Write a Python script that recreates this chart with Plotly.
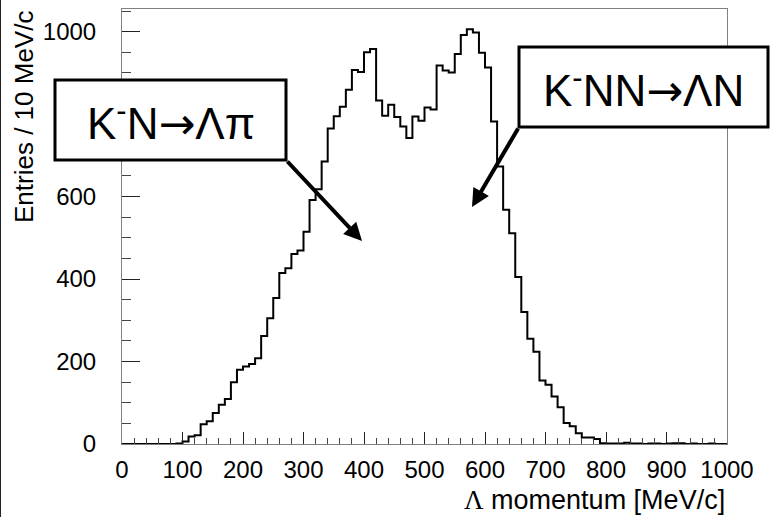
import plotly.graph_objects as go

# ---------------- data ----------------
bin_width = 10
x_start = 0
counts = [0, 0, 0, 0, 0, 0, 0, 0, 0, 1,
          6, 18, 21, 48, 55, 75, 95, 109, 150, 180,
          188, 194, 208, 262, 305, 354, 415, 426, 461, 469,
          515, 592, 618, 685, 765, 795, 818, 859, 907, 902,
          950, 958, 833, 796, 823, 793, 770, 742, 794, 784,
          816, 811, 918, 906, 901, 946, 992, 1006, 998, 949,
          913, 782, 673, 568, 511, 405, 320, 255, 224, 154,
          144, 115, 89, 51, 43, 26, 16, 16, 12, 2,
          1, 1, 1, 3, 1, 1, 0, 1, 1, 0,
          1, 2, 2, 0, 1, 0, 0, 1, 0, 0]
x_ticks = [0, 100, 200, 300, 400, 500, 600, 700, 800, 900, 1000]
y_ticks = [0, 200, 400, 600, 800, 1000]
x_title = '<span style="font-family:Liberation Serif, Times New Roman, serif">\u039b</span> momentum [MeV/c]'
y_title = "Entries / 10 MeV/c"
ARROW = '<span style="font-family:DejaVu Sans">\u2192</span>'
label_1 = "K<sup>-</sup>N" + ARROW + "\u039b\u03c0"
label_2 = "K<sup>-</sup>NN" + ARROW + "\u039bN"

edges = [x_start + i * bin_width for i in range(len(counts) + 1)]
ystep = counts + [counts[-1]]

W, H = 784, 517
ML, MR, MT, MB = 122, 57, 9, 73
PW, PH = W - ML - MR, H - MT - MB


def px(x):
    return (x - ML) / PW


def py(y):
    return (MT + PH - y) / PH


FONT = "Liberation Sans, Arial, Helvetica, sans-serif"

fig = go.Figure()
fig.add_trace(go.Scatter(x=edges, y=ystep, mode="lines",
                         line=dict(color="black", width=2, shape="hv"),
                         hoverinfo="skip", showlegend=False))

axis_common = dict(showgrid=False, zeroline=False, showline=True, mirror=True,
                   linecolor="#808080", linewidth=1, ticks="inside",
                   tickcolor="#222222", tickwidth=1,
                   tickfont=dict(family=FONT, size=24, color="black"))

fig.update_layout(
    width=W, height=H,
    margin=dict(l=ML, r=MR, t=MT, b=MB),
    paper_bgcolor="white", plot_bgcolor="white",
    showlegend=False,
    xaxis=dict(range=[0, 1000], tickvals=x_ticks, ticktext=[str(v) for v in x_ticks],
               ticklen=12, ticklabelstandoff=4,
               minor=dict(ticks="inside", ticklen=6, dtick=20, tick0=0,
                          tickcolor="#444444", showgrid=False),
               **axis_common),
    yaxis=dict(range=[0, 1055], tickvals=y_ticks, ticktext=[str(v) for v in y_ticks],
               ticklen=18, ticklabelstandoff=20,
               minor=dict(ticks="inside", ticklen=9, dtick=50, tick0=0,
                          tickcolor="#444444", showgrid=False),
               **axis_common),
)

shapes = [
    # thin border at left edge of image
    dict(type="line", xref="paper", yref="paper", x0=px(0.5), x1=px(0.5),
         y0=py(0), y1=py(H), line=dict(color="#222222", width=1)),
    # label boxes
    dict(type="rect", xref="paper", yref="paper", x0=px(55), x1=px(286),
         y0=py(80), y1=py(160), fillcolor="white", line=dict(color="black", width=3)),
    dict(type="rect", xref="paper", yref="paper", x0=px(519), x1=px(768),
         y0=py(47), y1=py(127), fillcolor="white", line=dict(color="black", width=3)),
]
fig.update_layout(shapes=shapes)

ann = [
    dict(text=label_1, xref="paper", yref="paper", x=px(170.5), y=py(121),
         showarrow=False, font=dict(family=FONT, size=44, color="black"),
         xanchor="center", yanchor="middle"),
    dict(text=label_2, xref="paper", yref="paper", x=px(643.5), y=py(88),
         showarrow=False, font=dict(family=FONT, size=44, color="black"),
         xanchor="center", yanchor="middle"),
    # arrows
    dict(text="", xref="paper", yref="paper", x=px(362), y=py(241),
         ax=286 - 362, ay=160 - 241, showarrow=True, arrowhead=2, arrowsize=0.9,
         arrowwidth=4, arrowcolor="black", standoff=0, startstandoff=0),
    dict(text="", xref="paper", yref="paper", x=px(472), y=py(207),
         ax=519 - 472, ay=127 - 207, showarrow=True, arrowhead=2, arrowsize=0.9,
         arrowwidth=4, arrowcolor="black", standoff=0, startstandoff=0),
    # axis titles
    dict(text=x_title, xref="paper", yref="paper", x=1.0, y=py(500),
         showarrow=False, xanchor="right", yanchor="middle",
         font=dict(family=FONT, size=27, color="black")),
    dict(text=y_title, xref="paper", yref="paper", x=px(24), y=py(9),
         showarrow=False, xanchor="center", yanchor="top", textangle=-90,
         font=dict(family=FONT, size=26, color="black")),
]
fig.update_layout(annotations=ann)

fig.write_html("out.html", config=dict(displayModeBar=False))
